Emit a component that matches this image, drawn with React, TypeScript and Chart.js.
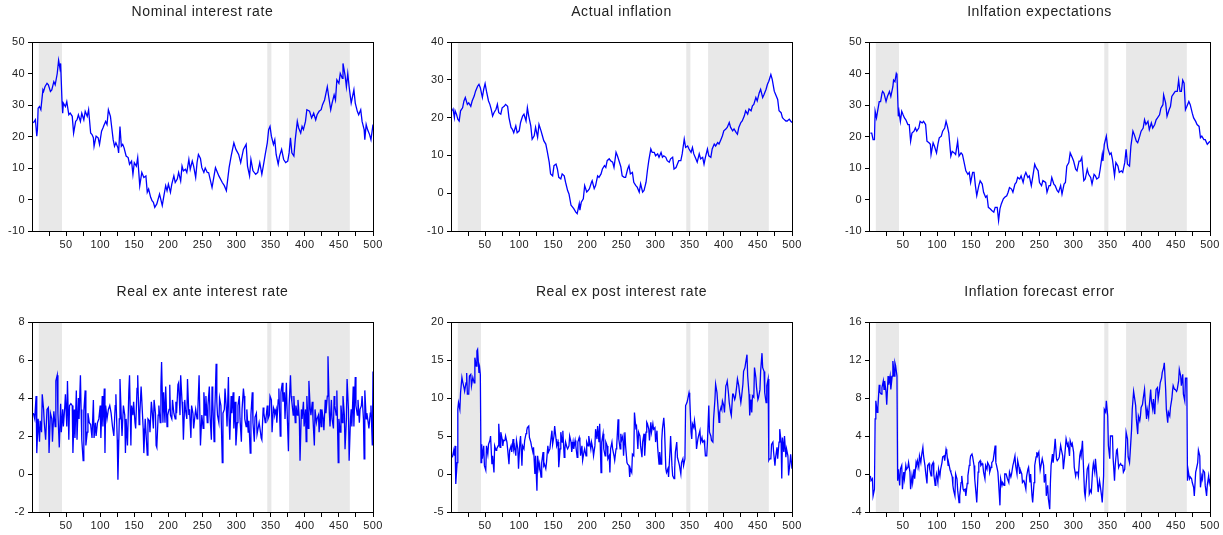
import React, { useEffect, useRef } from 'react';
import { Chart, registerables } from 'chart.js';
Chart.register(...registerables);

const nominal = [[2,24.3],[5,25.3],[7,20.1],[8,22.2],[9,29.0],[11,29.5],[13,28.5],[16,34.8],[17,34.3],[19,35.8],[22,36.9],[24,36.4],[27,34.3],[29,34.8],[32,37.4],[34,36.4],[37,40.0],[39,44.2],[41,41.6],[42,43.2],[44,31.1],[45,27.4],[46,30.6],[49,29.5],[51,31.1],[54,26.9],[56,27.4],[59,26.4],[61,21.1],[64,24.8],[66,25.3],[68,26.9],[71,24.8],[73,27.4],[76,25.3],[78,28.0],[81,26.4],[83,28.5],[86,21.1],[88,20.6],[90,19.6],[91,16.9],[94,20.1],[97,19.6],[99,17.5],[102,21.7],[104,22.7],[106,23.8],[108,24.8],[110,23.8],[112,28.5],[115,26.4],[117,22.7],[119,19.0],[121,16.9],[123,18.0],[126,16.4],[127,14.8],[129,23.2],[131,16.9],[133,17.5],[135,16.4],[138,13.8],[141,13.3],[143,11.2],[146,12.2],[148,8.0],[150,11.7],[153,10.6],[155,13.3],[158,4.4],[161,8.6],[164,7.0],[167,7.5],[169,2.3],[171,3.3],[174,0.7],[176,-0.4],[178,-0.9],[180,-2.5],[183,-1.4],[187,1.7],[191,-1.9],[193,0.7],[196,4.4],[198,2.8],[200,4.9],[203,2.3],[205,4.9],[208,7.5],[210,5.4],[213,6.5],[215,8.6],[218,5.9],[220,10.6],[222,9.1],[225,9.6],[227,8.6],[230,12.7],[232,9.6],[235,12.2],[237,10.6],[240,7.0],[242,11.7],[244,14.3],[247,13.0],[249,10.1],[252,8.6],[254,10.0],[257,8.6],[259,8.5],[264,3.8],[269,10.1],[274,7.5],[279,5.4],[282,4.4],[285,2.8],[289,10.1],[292,13.8],[296,18.0],[299,15.9],[303,14.3],[306,11.7],[310,15.9],[314,17.5],[316,10.6],[319,7.5],[321,12.7],[324,9.1],[328,8.0],[331,8.6],[334,11.7],[337,8.0],[340,11.7],[342,14.3],[345,18.0],[347,22.2],[349,23.2],[351,20.1],[354,17.5],[356,19.0],[358,14.3],[361,11.2],[363,13.8],[366,15.9],[369,12.7],[372,11.7],[375,12.2],[377,14.8],[379,19.6],[381,14.8],[384,13.8],[386,19.0],[389,24.8],[391,22.7],[394,21.1],[396,23.2],[398,22.2],[401,24.8],[403,28.5],[407,28.0],[410,25.9],[413,27.4],[416,25.3],[418,26.9],[421,28.0],[424,28.5],[426,30.1],[429,31.6],[431,33.7],[433,35.8],[435,32.7],[438,28.5],[440,30.6],[443,33.2],[445,31.6],[447,38.0],[450,36.9],[452,40.0],[455,38.5],[456,43.2],[459,39.5],[461,35.8],[463,40.0],[465,35.8],[468,30.6],[470,32.7],[472,34.8],[474,30.6],[477,28.0],[479,26.9],[482,28.5],[484,24.8],[487,22.2],[488,19.0],[490,23.8],[492,22.2],[495,20.6],[497,19.0],[500,23.8]];

const actual = [[2,21.8],[3,22.2],[5,20.0],[6,21.8],[8,20.9],[10,19.6],[12,19.1],[14,21.8],[17,22.6],[19,24.4],[21,25.3],[24,23.5],[26,23.9],[29,23.0],[31,24.4],[34,25.7],[36,27.0],[39,28.3],[41,28.8],[43,27.9],[46,25.3],[48,27.5],[50,29.0],[52,27.0],[55,24.4],[57,23.5],[59,22.2],[61,20.4],[63,21.3],[66,22.2],[68,23.5],[70,21.3],[73,20.9],[75,22.6],[78,23.0],[80,23.5],[83,23.0],[85,20.0],[88,17.4],[90,16.9],[92,16.0],[95,17.8],[97,16.0],[100,16.5],[102,18.7],[105,20.4],[107,20.9],[110,19.1],[112,22.6],[114,20.4],[117,17.8],[119,14.3],[122,15.2],[124,17.4],[127,14.8],[129,18.2],[132,16.5],[134,15.2],[136,13.9],[139,13.0],[141,11.2],[144,8.2],[146,5.1],[149,4.6],[151,7.3],[154,7.7],[156,6.4],[158,4.2],[161,3.8],[163,5.1],[166,4.6],[168,2.9],[171,0.7],[173,-0.2],[176,-3.2],[178,-3.6],[180,-4.1],[183,-5.0],[185,-5.4],[188,-2.8],[189,-4.5],[191,-2.4],[194,-1.5],[196,2.0],[199,0.3],[201,0.7],[203,1.2],[206,2.9],[207,3.3],[210,1.2],[212,2.0],[215,4.6],[217,4.2],[220,5.1],[222,6.4],[225,7.3],[227,6.8],[229,8.6],[232,9.1],[234,8.6],[237,8.2],[239,6.8],[242,10.8],[244,9.9],[247,8.2],[249,7.0],[251,4.6],[254,4.2],[256,4.2],[259,6.4],[261,7.3],[263,5.1],[266,5.5],[268,2.9],[271,2.0],[273,1.6],[276,0.3],[278,2.5],[281,0.3],[283,0.7],[286,2.9],[288,6.0],[290,8.6],[293,11.7],[295,10.8],[298,10.8],[300,9.9],[303,10.4],[305,9.5],[308,10.8],[310,9.5],[312,9.9],[315,9.5],[317,8.6],[320,8.2],[322,9.1],[325,9.5],[327,6.4],[330,6.8],[332,7.7],[334,8.6],[337,8.6],[339,10.4],[342,14.3],[344,12.1],[347,12.5],[349,11.7],[352,10.8],[354,12.1],[356,10.4],[359,9.1],[361,8.2],[364,10.4],[366,9.1],[369,9.5],[371,7.7],[373,9.5],[376,11.7],[378,9.9],[381,9.5],[383,11.7],[386,13.0],[388,12.5],[391,13.4],[393,13.0],[396,14.3],[398,15.2],[400,16.5],[403,17.0],[405,17.4],[408,18.7],[410,17.4],[413,16.5],[415,17.0],[418,16.1],[420,15.6],[422,17.4],[425,18.7],[427,19.1],[430,20.4],[432,21.8],[435,20.9],[437,22.3],[440,21.8],[442,23.1],[444,23.5],[447,25.3],[449,24.4],[452,26.6],[454,27.5],[457,25.3],[459,26.1],[462,27.5],[464,28.8],[466,29.6],[469,31.4],[471,30.1],[474,27.0],[476,26.1],[479,24.8],[481,21.8],[484,21.3],[486,20.0],[488,19.6],[491,19.1],[493,19.1],[496,19.6],[498,19.1],[500,18.7]];

const expectations = [[2,21.1],[4,21.1],[6,19.0],[8,19.0],[9,28.0],[11,25.9],[13,28.5],[15,31.1],[17,31.1],[19,33.7],[20,34.3],[22,33.7],[25,31.1],[27,32.7],[30,34.3],[32,32.7],[35,35.8],[36,37.9],[38,37.4],[40,40.0],[41,39.5],[43,26.4],[44,28.0],[46,24.8],[48,28.0],[50,26.9],[52,25.9],[54,25.3],[57,23.8],[59,23.8],[61,18.5],[63,21.1],[66,21.7],[68,22.7],[70,21.7],[73,22.7],[75,24.8],[78,24.3],[80,24.8],[83,23.8],[85,18.5],[88,18.0],[90,17.5],[91,14.3],[94,18.0],[96,16.9],[99,14.8],[101,17.5],[103,19.6],[106,20.1],[108,21.7],[111,22.7],[113,24.8],[115,23.2],[117,21.1],[120,13.8],[122,15.3],[125,14.8],[127,14.3],[130,18.5],[132,13.8],[135,14.8],[137,14.3],[140,11.2],[142,9.1],[145,8.0],[147,8.6],[149,5.4],[152,8.6],[154,8.6],[156,4.4],[158,1.2],[161,4.4],[163,5.9],[166,4.9],[168,2.3],[171,0.7],[173,1.2],[175,-2.5],[178,-3.0],[180,-3.5],[183,-4.0],[185,-2.5],[188,-2.5],[190,-6.7],[192,-3.0],[194,-1.4],[197,0.2],[199,0.7],[202,1.2],[204,2.3],[206,3.8],[209,3.3],[211,2.3],[214,4.9],[216,5.4],[218,7.0],[221,6.5],[223,7.5],[226,5.4],[228,7.5],[230,8.6],[233,7.0],[235,7.5],[238,4.4],[240,7.0],[243,11.2],[245,10.1],[248,9.1],[250,5.4],[253,4.4],[255,6.0],[259,5.4],[261,2.3],[264,4.4],[266,4.4],[268,7.0],[271,4.9],[273,4.4],[276,2.8],[278,2.3],[281,4.4],[283,1.7],[286,4.9],[288,5.4],[290,10.6],[293,11.7],[295,14.8],[298,13.3],[300,12.2],[303,9.6],[305,9.1],[308,12.2],[310,12.2],[312,13.3],[315,6.0],[317,6.5],[320,9.6],[322,8.0],[325,7.0],[327,4.9],[330,8.0],[332,7.5],[334,6.5],[337,7.0],[339,9.6],[342,14.3],[343,12.2],[345,17.5],[348,20.1],[350,16.4],[353,14.3],[355,14.8],[357,12.7],[360,7.5],[362,11.7],[365,10.6],[367,8.6],[370,9.1],[372,8.6],[375,11.7],[377,15.9],[379,11.2],[382,10.6],[384,16.9],[387,21.7],[389,20.6],[392,18.5],[394,18.0],[397,20.1],[399,21.7],[402,22.7],[404,25.3],[406,23.8],[409,24.8],[411,22.2],[414,24.3],[416,22.7],[419,23.8],[421,25.3],[423,25.9],[426,26.9],[428,29.0],[431,30.1],[432,33.2],[435,30.6],[437,26.4],[440,28.5],[442,29.5],[444,32.7],[447,33.7],[449,34.3],[452,34.3],[454,37.9],[456,34.3],[458,34.3],[460,37.9],[462,36.9],[464,28.5],[466,29.5],[469,31.1],[471,30.1],[474,27.4],[476,25.9],[479,24.8],[481,23.8],[484,23.2],[486,19.6],[488,20.1],[491,19.0],[493,19.0],[496,17.5],[498,18.0],[500,18.5]];

const exAnte = [[2,3.2],[4,2.9],[6,4.1],[7,1.1],[9,2.9],[11,1.7],[12,2.8],[14,2.2],[15,4.2],[17,3.4],[18,2.7],[20,1.8],[22,3.4],[24,3.5],[25,1.1],[27,3.2],[29,2.9],[30,1.7],[32,3.3],[34,2.5],[35,4.9],[37,5.2],[38,3.2],[40,1.4],[42,3.7],[43,2.2],[45,3.4],[46,2.5],[48,3.5],[49,4.2],[51,2.5],[52,4.9],[54,1.8],[55,3.6],[57,3.7],[59,3.6],[60,1.1],[62,3.4],[63,1.9],[65,4.4],[66,1.8],[68,4.0],[69,2.9],[71,5.2],[72,3.4],[73,1.8],[75,0.7],[76,3.3],[78,4.4],[79,1.5],[81,2.2],[82,3.2],[84,2.7],[86,2.6],[88,1.9],[90,3.9],[91,1.9],[93,2.7],[94,2.0],[96,2.7],[98,2.9],[100,3.6],[101,1.9],[103,4.1],[104,2.5],[106,4.5],[107,1.1],[108,3.6],[110,2.9],[112,3.4],[114,3.6],[116,3.2],[118,2.5],[120,2.0],[122,3.6],[123,4.2],[125,1.8],[126,-0.3],[128,2.9],[129,5.0],[131,2.9],[132,2.0],[134,3.6],[136,3.1],[137,1.1],[138,2.9],[140,1.5],[142,4.4],[143,5.2],[145,1.5],[146,3.6],[148,3.1],[149,3.8],[151,2.7],[152,2.4],[154,4.5],[155,5.2],[157,2.6],[158,3.1],[160,4.6],[161,4.6],[163,2.4],[164,1.1],[166,2.9],[167,2.9],[169,1.0],[170,2.9],[172,2.8],[173,2.2],[175,3.8],[176,3.4],[178,2.4],[179,3.9],[181,3.2],[182,1.5],[183,1.4],[185,3.1],[186,3.6],[188,2.7],[189,4.6],[190,5.9],[192,2.7],[193,4.3],[195,2.7],[196,4.6],[198,2.5],[199,3.1],[201,3.4],[202,4.7],[203,3.1],[205,2.9],[206,3.9],[208,3.2],[210,2.9],[211,3.8],[212,3.2],[214,4.7],[215,4.8],[217,3.1],[218,5.2],[220,3.8],[221,3.2],[222,1.8],[224,3.9],[225,3.4],[227,2.9],[228,5.0],[230,3.1],[231,3.4],[233,1.9],[234,3.6],[236,3.2],[237,2.4],[239,3.1],[240,3.4],[242,2.9],[243,3.2],[245,5.2],[247,1.5],[249,3.1],[251,2.4],[252,4.3],[254,3.1],[255,4.1],[257,2.7],[258,3.6],[260,4.6],[261,3.1],[263,1.8],[264,4.6],[265,3.9],[267,1.7],[268,3.2],[270,5.8],[271,3.8],[272,3.1],[274,2.7],[275,4.0],[277,3.6],[279,0.6],[280,3.2],[282,3.4],[283,4.5],[285,3.4],[286,2.5],[288,5.1],[289,2.9],[290,1.8],[292,4.1],[293,3.2],[295,4.3],[296,2.4],[298,3.8],[299,1.5],[301,2.7],[302,3.6],[304,4.1],[305,2.9],[307,1.7],[308,3.4],[310,4.5],[311,4.1],[312,2.9],[314,2.5],[315,3.4],[317,2.2],[318,2.8],[320,1.1],[321,3.1],[323,4.3],[324,2.7],[326,1.7],[327,3.0],[329,3.2],[330,2.1],[332,2.5],[333,2.7],[335,2.2],[336,1.9],[337,1.8],[339,3.5],[340,3.2],[342,2.7],[343,2.9],[345,3.6],[346,2.9],[348,3.1],[349,4.1],[351,3.9],[352,2.2],[354,3.5],[355,3.4],[356,3.1],[358,3.4],[359,2.7],[361,3.9],[362,4.5],[364,2.0],[365,4.3],[367,4.8],[368,3.8],[370,4.3],[371,2.9],[373,4.8],[374,3.4],[376,1.2],[377,3.6],[379,5.2],[380,4.1],[381,3.8],[383,3.1],[384,4.1],[386,2.7],[387,3.6],[389,3.1],[390,3.9],[392,2.9],[393,0.7],[395,3.4],[396,2.9],[398,3.8],[399,2.5],[401,3.4],[402,1.7],[403,4.1],[405,2.4],[406,4.9],[408,3.4],[409,3.1],[411,3.8],[412,2.9],[414,1.5],[415,3.4],[417,2.7],[418,2.9],[420,3.1],[421,2.2],[423,3.4],[424,2.5],[425,3.4],[427,2.9],[428,2.3],[430,3.9],[431,3.2],[433,4.1],[434,6.2],[436,3.2],[437,2.5],[439,3.9],[440,2.9],[442,2.4],[443,4.1],[444,3.6],[446,3.1],[447,4.4],[449,0.6],[450,2.9],[452,2.2],[453,3.6],[455,2.7],[456,4.1],[458,3.1],[459,1.3],[461,2.9],[462,5.0],[464,3.4],[465,0.7],[467,2.9],[468,3.4],[469,2.5],[471,4.6],[472,2.5],[474,5.1],[475,3.6],[477,3.1],[478,3.9],[480,2.7],[481,3.4],[483,3.6],[484,4.1],[486,2.9],[487,0.8],[488,4.4],[490,2.9],[491,3.2],[493,2.7],[494,2.4],[496,3.2],[497,3.6],[499,1.5],[500,5.4]];

const exPost = [[2,2.2],[4,3.1],[5,2.4],[6,3.7],[7,-1.3],[9,1.5],[10,8.5],[11,9.4],[13,8.5],[14,10.7],[16,12.7],[17,12.2],[19,11.4],[20,10.9],[22,12.0],[23,13.3],[24,10.5],[26,10.5],[27,12.9],[29,13.1],[30,11.6],[32,12.7],[34,12.0],[35,15.3],[37,14.2],[38,16.2],[39,16.4],[41,13.3],[42,14.0],[43,13.1],[44,1.5],[45,3.9],[46,2.0],[48,3.7],[49,1.1],[51,0.5],[52,3.7],[54,2.6],[55,3.9],[57,4.4],[58,5.0],[60,1.3],[61,2.4],[63,0.2],[64,3.7],[66,3.1],[67,3.3],[69,3.7],[70,6.6],[72,3.5],[73,5.5],[75,4.6],[76,3.7],[77,4.4],[79,4.4],[80,5.0],[82,4.2],[83,3.3],[85,1.3],[86,3.1],[88,3.7],[89,2.9],[91,4.6],[92,3.3],[93,3.7],[95,2.4],[96,4.4],[98,3.3],[99,0.7],[101,4.2],[102,5.0],[104,1.1],[105,3.7],[107,3.3],[108,4.4],[110,5.3],[111,5.7],[112,6.1],[114,6.3],[115,4.8],[117,4.2],[118,3.7],[120,2.9],[121,3.5],[123,0.0],[124,2.4],[126,-2.2],[127,2.4],[129,0.7],[130,1.3],[132,-0.4],[133,1.5],[135,2.9],[136,1.1],[137,1.3],[139,0.7],[140,1.5],[142,3.7],[143,2.9],[145,3.3],[146,4.2],[148,5.7],[149,3.9],[151,5.0],[152,6.3],[154,4.6],[155,3.7],[157,4.2],[158,0.9],[160,3.3],[161,5.5],[163,4.2],[164,5.7],[166,2.2],[167,3.3],[168,4.2],[170,3.5],[171,3.3],[173,3.7],[174,5.0],[176,4.2],[177,2.9],[179,4.2],[180,3.3],[182,4.4],[183,3.7],[185,2.2],[186,4.2],[188,4.8],[189,4.2],[190,2.4],[192,3.7],[193,1.8],[195,2.9],[196,3.3],[198,2.4],[199,4.2],[201,3.7],[202,5.0],[203,4.4],[205,3.3],[206,4.2],[208,3.3],[209,2.4],[211,3.7],[212,5.9],[214,4.6],[215,6.3],[217,4.2],[218,6.6],[220,0.2],[221,4.2],[223,5.3],[224,3.3],[226,2.4],[227,4.2],[229,3.7],[230,2.0],[232,2.4],[233,0.2],[234,3.3],[236,4.2],[237,3.3],[239,2.4],[240,1.8],[242,3.3],[243,3.7],[245,7.2],[246,4.6],[248,3.3],[249,5.3],[250,4.4],[252,5.0],[253,2.4],[255,5.5],[256,3.7],[258,1.5],[259,1.3],[261,1.1],[262,-0.4],[263,0.7],[265,0.2],[266,2.6],[268,2.4],[269,8.1],[271,6.1],[272,6.3],[274,3.3],[275,5.5],[277,5.0],[278,3.7],[280,2.2],[281,4.2],[283,5.3],[284,2.4],[286,5.5],[287,6.8],[288,6.6],[290,5.9],[291,4.4],[293,6.8],[294,5.5],[296,6.6],[297,5.9],[299,6.1],[300,4.2],[302,5.7],[303,3.5],[305,1.3],[306,2.9],[308,1.3],[309,4.4],[310,5.9],[312,7.4],[313,6.1],[315,0.7],[316,0.2],[318,0.7],[319,-0.4],[321,2.9],[322,5.0],[324,1.1],[325,-0.2],[327,-0.6],[328,0.7],[329,2.9],[331,4.2],[332,2.2],[334,1.5],[335,1.1],[337,0.0],[338,1.5],[340,2.0],[341,1.1],[343,2.0],[344,9.0],[346,9.4],[347,9.8],[349,10.7],[350,10.1],[352,5.5],[353,4.6],[354,6.6],[356,6.1],[357,7.0],[359,5.5],[360,3.3],[362,4.6],[363,5.0],[365,5.7],[366,4.2],[368,4.8],[369,4.2],[371,4.4],[372,3.7],[373,2.4],[375,2.4],[376,4.2],[378,9.0],[379,5.5],[381,5.0],[382,4.4],[384,4.2],[385,7.2],[387,9.8],[388,11.8],[390,10.7],[391,9.4],[393,6.8],[394,8.1],[396,8.8],[397,8.5],[398,9.6],[400,9.0],[401,8.1],[403,11.6],[404,11.8],[405,12.2],[407,10.5],[408,9.4],[410,8.1],[411,7.7],[413,10.5],[414,10.5],[416,9.8],[417,10.1],[419,11.6],[420,12.5],[422,11.6],[423,10.7],[425,9.4],[426,10.1],[428,11.8],[429,13.5],[431,14.0],[432,14.6],[434,15.7],[435,12.9],[437,10.5],[438,7.7],[440,9.8],[441,8.1],[442,10.3],[444,10.1],[445,14.0],[447,12.7],[448,11.4],[450,9.8],[451,10.1],[453,11.1],[454,13.5],[456,15.9],[457,14.0],[459,13.5],[460,10.7],[462,9.4],[463,11.6],[465,12.5],[466,1.8],[467,2.0],[469,2.0],[470,3.9],[472,4.2],[473,2.9],[475,1.1],[476,2.2],[478,3.5],[479,2.0],[481,4.2],[482,5.9],[484,4.2],[485,-0.6],[486,4.8],[488,2.9],[489,5.0],[491,2.2],[492,3.3],[494,2.4],[495,-0.2],[497,1.5],[498,2.6],[500,0.7]];

const forecastError = [[2,-0.2],[3,-0.7],[5,-0.5],[6,-2.3],[8,-1.6],[9,5.8],[10,7.7],[12,6.5],[13,7.0],[15,9.4],[16,8.6],[18,8.4],[19,9.1],[21,9.8],[22,8.9],[23,9.8],[25,8.6],[26,7.3],[28,10.3],[29,9.4],[31,10.3],[32,8.9],[34,10.3],[35,11.9],[37,10.3],[38,11.7],[39,11.4],[41,10.3],[42,-0.7],[43,0.5],[45,-1.2],[46,0.5],[48,0.9],[49,-1.6],[51,0.2],[52,-0.5],[54,0.9],[55,0.5],[57,0.7],[58,1.2],[60,0.2],[61,-1.6],[63,-0.2],[64,-0.9],[66,0.5],[67,-0.5],[69,1.2],[70,0.9],[71,1.4],[73,0.7],[74,1.9],[76,1.2],[77,1.9],[79,2.8],[80,1.9],[82,0.9],[83,0.2],[85,-1.0],[86,0.9],[88,1.1],[89,0.5],[91,-0.2],[92,0.9],[94,1.2],[95,0.0],[97,-1.2],[98,-0.5],[99,0.0],[101,-0.9],[102,0.5],[104,-0.2],[105,0.5],[107,1.2],[108,1.8],[110,1.9],[111,1.4],[113,2.6],[114,2.3],[116,0.9],[117,1.1],[119,0.4],[120,0.2],[122,-0.3],[123,-1.2],[124,-1.7],[126,-2.3],[127,0.0],[129,-0.5],[130,-1.7],[132,-3.0],[133,-2.3],[135,-0.9],[136,-0.2],[138,-1.6],[139,-1.7],[141,-1.6],[142,-2.3],[144,-1.0],[145,-0.2],[147,0.9],[148,1.4],[149,1.9],[151,2.1],[152,1.8],[154,0.9],[155,-0.5],[157,-2.1],[158,-3.0],[160,0.2],[161,1.2],[163,1.4],[164,0.9],[166,1.1],[167,0.9],[168,0.2],[170,-0.5],[171,0.9],[173,0.5],[174,1.2],[176,0.9],[177,0.2],[179,0.7],[180,1.2],[182,1.4],[183,1.4],[185,3.0],[186,1.2],[187,0.9],[189,0.2],[190,-0.9],[192,-3.3],[193,-0.5],[195,-1.2],[196,-0.9],[198,-1.2],[199,0.0],[201,0.0],[202,0.0],[203,-0.5],[205,-0.9],[206,0.2],[208,-0.3],[209,0.0],[211,0.9],[212,1.2],[214,1.9],[215,0.9],[217,0.0],[218,1.4],[220,0.7],[221,0.0],[222,0.4],[224,0.0],[225,-0.9],[227,-0.7],[228,-0.9],[230,-1.6],[231,-0.3],[233,0.5],[234,0.7],[236,-0.9],[237,0.0],[239,-2.3],[240,-3.0],[242,-0.9],[243,0.9],[245,1.8],[246,2.3],[247,1.9],[249,2.3],[250,1.2],[251,0.4],[254,1.6],[256,0.9],[257,-0.9],[259,0.0],[260,-2.3],[262,-1.2],[263,-2.6],[265,-3.7],[266,-0.9],[267,0.9],[269,2.1],[270,1.2],[272,2.8],[273,3.7],[275,1.6],[276,1.4],[278,1.6],[279,1.8],[281,3.0],[282,2.6],[284,1.9],[285,0.5],[287,1.9],[288,2.8],[289,3.7],[291,3.0],[292,3.2],[294,1.9],[295,3.5],[297,3.0],[298,3.2],[300,2.3],[301,0.7],[303,-0.2],[304,0.2],[306,0.2],[307,-0.2],[309,1.9],[310,2.3],[311,1.9],[313,3.5],[314,1.6],[316,-1.9],[317,-2.4],[319,-0.5],[320,0.5],[322,0.9],[323,-2.1],[325,-1.7],[326,-1.9],[328,0.5],[329,1.1],[331,0.2],[332,1.6],[334,0.0],[335,-0.9],[336,-1.9],[338,-0.7],[339,-1.2],[341,-2.3],[342,-3.0],[344,-0.2],[345,6.8],[347,6.5],[348,7.7],[350,6.1],[351,3.0],[353,1.6],[354,4.0],[355,4.0],[357,4.0],[358,1.6],[360,-0.7],[361,0.9],[363,2.5],[364,2.6],[366,0.7],[367,0.9],[369,1.1],[370,0.9],[372,0.9],[373,0.2],[375,0.5],[376,2.3],[377,4.4],[379,3.7],[380,1.8],[382,1.2],[383,2.3],[385,4.7],[386,6.8],[388,8.7],[389,8.2],[391,7.2],[392,5.8],[394,4.2],[395,6.1],[397,5.6],[398,6.1],[399,7.0],[401,7.3],[402,7.9],[404,8.9],[405,7.7],[407,5.8],[408,6.8],[410,6.0],[411,7.2],[413,8.9],[414,7.7],[416,6.8],[417,7.9],[419,6.3],[420,7.9],[421,8.9],[423,9.1],[424,7.9],[426,8.9],[427,9.6],[429,10.1],[430,10.7],[432,11.2],[433,11.7],[435,8.9],[436,6.8],[438,5.4],[439,6.5],[441,6.1],[442,7.0],[444,7.9],[445,8.7],[446,9.3],[448,8.9],[449,8.9],[451,8.7],[452,8.9],[454,9.8],[455,11.0],[457,10.3],[458,9.3],[460,10.5],[461,8.4],[463,7.7],[464,10.1],[466,10.1],[467,-0.7],[468,0.4],[470,-0.5],[471,-0.3],[473,-0.5],[474,-0.9],[476,-1.4],[477,-2.3],[479,0.2],[480,0.5],[482,1.2],[483,2.5],[485,1.9],[486,-1.4],[488,-0.2],[489,-0.5],[490,0.4],[492,0.2],[493,-1.2],[495,-2.3],[496,-1.2],[498,-0.2],[499,-0.9],[500,-0.5]];

// shaded periods (observation ranges)
const shadedPeriods = [[10, 44], [345, 351], [377, 466]];

// axis ticks
const xTickValues = [25, 50, 75, 100, 125, 150, 175, 200, 225, 250, 275, 300, 325, 350, 375, 400, 425, 450, 475, 500];
const xLabelEvery = 50;
const yTicksNominal = [-10, 0, 10, 20, 30, 40, 50];
const yTicksActual = [-10, 0, 10, 20, 30, 40];
const yTicksExpect = [-10, 0, 10, 20, 30, 40, 50];
const yTicksExAnte = [-2, 0, 2, 4, 6, 8];
const yTicksExPost = [-5, 0, 5, 10, 15, 20];
const yTicksError = [-4, 0, 4, 8, 12, 16];

const titles = [
  'Nominal interest rate',
  'Actual inflation',
  'Inlfation expectations',
  'Real ex ante interest rate',
  'Real ex post interest rate',
  'Inflation forecast error',
];

// ---------------- layout ----------------
const PLOT_LEFT = [32, 451, 869];
const PLOT_RIGHT = [373, 792, 1210];
const PLOT_TOP = [42, 322];
const PLOT_BOTTOM = [231, 512];
const TITLE_Y = [12, 292];
const CANVAS_TOP = [0, 272];
const CANVAS_H = [262, 263];
const AXIS_W = 40;
const RIGHT_PAD = 18;
const FONT = '"Liberation Sans", Arial, Helvetica, sans-serif';

const panels = [
  { title: titles[0], data: nominal, yTicks: yTicksNominal, col: 0, row: 0 },
  { title: titles[1], data: actual, yTicks: yTicksActual, col: 1, row: 0 },
  { title: titles[2], data: expectations, yTicks: yTicksExpect, col: 2, row: 0 },
  { title: titles[3], data: exAnte, yTicks: yTicksExAnte, col: 0, row: 1 },
  { title: titles[4], data: exPost, yTicks: yTicksExPost, col: 1, row: 1 },
  { title: titles[5], data: forecastError, yTicks: yTicksError, col: 2, row: 1 },
];

const spacingPlugin = {
  id: 'spacing',
  beforeDraw(chart: any) {
    try {
      chart.ctx.letterSpacing = '0.4px';
    } catch (e) {}
  },
};

const shadePlugin = {
  id: 'shade',
  beforeDatasetsDraw(chart: any) {
    const { ctx, chartArea, scales } = chart;
    ctx.save();
    ctx.fillStyle = '#e8e8e8';
    for (const [a, b] of shadedPeriods) {
      const x0 = scales.x.getPixelForValue(a);
      const x1 = scales.x.getPixelForValue(b);
      ctx.fillRect(x0, chartArea.top, x1 - x0, chartArea.bottom - chartArea.top);
    }
    ctx.restore();
  },
};

const framePlugin = {
  id: 'frame',
  afterDatasetsDraw(chart: any) {
    const { ctx, chartArea } = chart;
    ctx.save();
    ctx.strokeStyle = '#000';
    ctx.lineWidth = 1;
    ctx.strokeRect(
      Math.round(chartArea.left) + 0.5,
      Math.round(chartArea.top) + 0.5,
      Math.round(chartArea.right - chartArea.left),
      Math.round(chartArea.bottom - chartArea.top)
    );
    ctx.restore();
  },
};

function titlePlugin(text: string, y: number) {
  return {
    id: 'panelTitle',
    afterDraw(chart: any) {
      const { ctx, chartArea } = chart;
      ctx.save();
      try {
        ctx.letterSpacing = '0.6px';
      } catch (e) {}
      ctx.font = `14px ${FONT}`;
      ctx.fillStyle = '#222';
      ctx.textAlign = 'center';
      ctx.textBaseline = 'middle';
      ctx.fillText(text, (chartArea.left + chartArea.right) / 2, y);
      ctx.restore();
    },
  };
}

export default function App() {
  const refs = useRef<(HTMLCanvasElement | null)[]>([]);

  useEffect(() => {
    const charts: Chart[] = [];
    panels.forEach((p, i) => {
      const canvas = refs.current[i];
      if (!canvas) return;
      const r = p.row;
      const canvasTop = CANVAS_TOP[r];
      const canvasH = CANVAS_H[r];
      const xAxisH = canvasH - (PLOT_BOTTOM[r] - canvasTop);
      const yMin = p.yTicks[0];
      const yMax = p.yTicks[p.yTicks.length - 1];
      const chart = new Chart(canvas, {
        type: 'line',
        data: {
          datasets: [
            {
              data: p.data.map(([x, y]) => ({ x, y })),
              borderColor: '#0000ff',
              borderWidth: 1.3,
              pointRadius: 0,
              tension: 0,
              fill: false,
            },
          ],
        },
        options: {
          animation: false,
          responsive: false,
          devicePixelRatio: 1,
          layout: { padding: { left: 0, right: RIGHT_PAD, top: PLOT_TOP[r] - canvasTop, bottom: 0 } },
          plugins: { legend: { display: false }, tooltip: { enabled: false }, title: { display: false } },
          scales: {
            x: {
              type: 'linear',
              min: 0,
              max: 500,
              afterBuildTicks: (s: any) => {
                s.ticks = xTickValues.map((v) => ({ value: v }));
              },
              afterFit: (s: any) => {
                s.height = xAxisH;
                s.paddingLeft = 0;
                s.paddingRight = 0;
              },
              ticks: {
                autoSkip: false,
                maxRotation: 0,
                padding: 2,
                color: '#222',
                font: { family: FONT, size: 11 },
                callback: (v: any) => (Number(v) % xLabelEvery === 0 ? String(v) : ''),
              },
              grid: { drawOnChartArea: false, drawTicks: true, tickLength: 5, color: '#000' },
              border: { display: true, color: '#000', width: 1 },
            },
            y: {
              type: 'linear',
              min: yMin,
              max: yMax,
              afterBuildTicks: (s: any) => {
                s.ticks = p.yTicks.map((v) => ({ value: v }));
              },
              afterFit: (s: any) => {
                s.width = AXIS_W;
                s.paddingTop = 0;
                s.paddingBottom = 0;
              },
              ticks: {
                padding: 3,
                color: '#222',
                font: { family: FONT, size: 11 },
                callback: (v: any) => String(v),
              },
              grid: { drawOnChartArea: false, drawTicks: true, tickLength: 4, color: '#000' },
              border: { display: true, color: '#000', width: 1 },
            },
          },
        },
        plugins: [spacingPlugin, shadePlugin, framePlugin, titlePlugin(p.title, TITLE_Y[r] - canvasTop)],
      } as any);
      charts.push(chart);
    });
    return () => charts.forEach((ch) => ch.destroy());
  }, []);

  return (
    <div
      style={{
        position: 'absolute',
        left: 0,
        top: 0,
        width: 1223,
        height: 535,
        overflow: 'hidden',
        background: '#fff',
      }}
    >
      {panels.map((p, i) => {
        const left = PLOT_LEFT[p.col] - AXIS_W;
        const width = PLOT_RIGHT[p.col] - PLOT_LEFT[p.col] + AXIS_W + RIGHT_PAD;
        const top = CANVAS_TOP[p.row];
        const height = CANVAS_H[p.row];
        return (
          <canvas
            key={i}
            ref={(el) => {
              refs.current[i] = el;
            }}
            width={width}
            height={height}
            style={{ position: 'absolute', left, top, width, height }}
          />
        );
      })}
    </div>
  );
}
